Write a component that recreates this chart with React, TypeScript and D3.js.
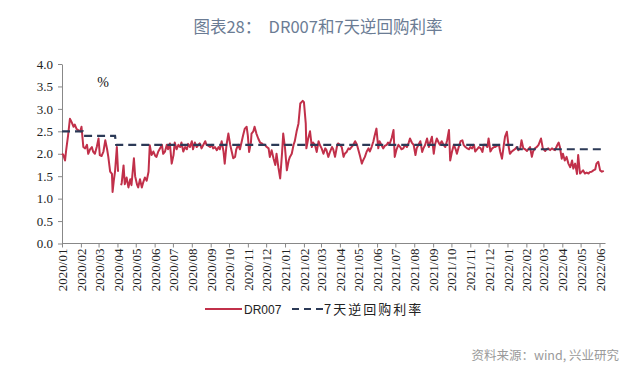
import React, { useEffect, useRef } from "react";
import * as d3 from "d3";

// ---- data ----
const TITLE = "图表28：  DR007和7天逆回购利率";
const SOURCE = "资料来源：wind, 兴业研究";
const UNIT = "%";
const SERIES_NAMES = ["DR007", "7天逆回购利率"];
const BASE_DATE = "2020-01-01";
const X_START = "2020-01-01";
const X_END = "2022-06-01";
const Y_TICKS = [0, 0.5, 1, 1.5, 2, 2.5, 3, 3.5, 4];

// DR007: day offset from BASE_DATE, value (null = missing)
const DR007_DAY = [
  0, 2, 5, 7, 10, 13, 16, 19, 21, 24, 27, 30, 32, 35, 38, 41, 43, 46, 49, 51, 54, 57, 60, 62, 65, 68, 71, 74, 76, 79, 82, 83, 85, 87, 90, 92, 94,
  97, 98, 101, 103, 106, 109, 112, 114, 118, 120, 123, 125, 128, 131, 133, 136, 139, 142, 144, 147, 150, 153, 155, 158, 161, 164, 166, 169, 172, 174, 177, 180, 183, 185, 188, 191, 194, 196, 199, 202, 205, 207, 210, 213, 215, 218, 221, 224,
  226, 229, 232, 235, 237, 240, 243, 246, 248, 251, 254, 257, 259, 262, 265, 267, 270, 273, 276, 278, 281, 284, 286, 289, 292, 295, 297, 300, 303, 305, 307, 310, 311, 314, 316, 319, 322, 325, 328, 330, 333, 336, 339, 341, 344, 347, 350, 352, 355, 358, 361, 363, 366, 369, 372, 374, 377, 380, 382, 385, 388, 391, 393, 395, 397, 400, 401, 404, 407, 410, 412, 415, 418, 421, 423, 426, 429, 432, 434, 437, 440, 443, 445, 448, 451, 453, 456, 459, 462, 464, 467, 470, 472, 475, 478, 481, 484, 486, 489, 492, 494, 497, 500, 503, 505, 508, 511, 513, 516, 519, 521, 524, 527, 530, 533, 535, 538, 541, 544, 546, 549, 552, 555, 557, 560, 563, 566, 569, 571, 574, 577, 580, 582, 585, 588, 591, 593, 596, 599, 602, 604, 607, 610, 612, 615, 618, 620, 623, 626, 629, 632, 635, 637, 640, 643, 646, 648, 651, 654, 657, 659, 662, 665, 668, 670, 673, 676, 678, 681, 684, 687, 690, 692, 695, 698, 700, 703, 706, 709, 711, 714, 717, 719, 722, 725, 727, 730, 733, 735, 738, 741, 743, 746, 749, 752, 754, 757, 760, 763, 765, 768, 771, 773, 776, 779, 782, 786, 789, 793, 795, 798, 801, 804, 806, 809, 813, 815, 817, 820, 822, 825, 828, 831, 834, 837, 839, 842, 845, 847, 850, 853, 855, 858, 861, 864, 866, 869, 872, 875, 877, 880, 883, 886, 889,
];
const DR007_VAL = [
  2.0, 1.98, 1.85, 2.1, 2.41, 2.78, 2.7, 2.6, 2.65, 2.55, 2.52, 2.5, 2.6, 2.15, 2.12, 2.2, 2.0, 2.1, 2.15, 2.05, 2.0, 2.15, 2.34, 1.97, 1.95, 2.05, 2.3, 2.1, 1.93, 1.6, 1.55, 1.15, 1.4, 1.6, 2.15, 1.6, null,
  1.3, 1.35, 1.74, 1.32, 1.47, 1.25, 1.43, 1.3, 1.9, 1.5, 1.32, 1.25, 1.43, 1.25, 1.35, 1.47, 1.4, 1.6, 2.19, 1.97, 2.05, 1.95, 1.93, 2.05, 2.12, 2.2, 2.0, 2.05, 2.2, 2.1, 2.23, 1.78, 1.97, 2.25, 2.1, 2.2, 2.15, 2.25, 2.05, 2.15, 2.1, 2.22, 2.15, 2.28, 2.1, 2.25, 2.15, 2.2,
  2.23, 2.12, 2.2, 2.28, 2.2, 2.18, 2.15, 2.2, 2.12, 2.15, 2.08, 2.15, 2.1, 2.28, 2.05, 1.78, 2.2, 2.45, 2.2, 2.08, 1.9, 1.93, 2.1, 2.2, 2.1, 2.28, 2.4, 2.56, 2.6, 2.4, 2.04, 2.25, 2.45, 2.5, 2.6, 2.45, 2.34, 2.25, 2.23, 2.2, 2.2, 2.15, 2.12, 1.93, 2.08, 1.9, 1.75, 2.0, 1.7, 1.45, 2.0, 2.45, 2.12, 1.63, 1.85, 1.93, 2.0, 2.2, 2.28, 2.5, 2.67, 3.12, 3.15, 3.18, 3.15, 2.67, 2.12, 2.34, 2.5, 2.15, 2.25, 2.2, 2.04, 2.28, 2.2, 2.12, 2.0, 2.12, 2.08, 1.93, 2.05, 2.15, 2.1, 1.93, 2.15, 2.23, 2.2, 2.15, 1.93, 2.0, 2.04, 2.12, 2.1, 2.15, 2.2, 2.28, 2.2, 2.1, 1.95, 1.78, 1.85, 1.93, 2.05, 2.12, 2.05, 2.15, 2.28, 2.4, 2.56, 2.12, 2.28, 2.2, 2.12, 2.18, 2.2, 2.25, 2.23, 2.35, 2.53, 1.93, 2.1, 2.2, 2.15, 2.1, 2.12, 2.2, 2.15, 2.25, 2.34, 2.25, 2.2, 1.97, 2.12, 2.2, 2.28, 2.04, 2.12, 2.2, 2.34, 2.15, 2.25, 2.38, 2.0, 2.2, 2.34, 2.25, 2.2, 2.28, 2.2, 2.15, 2.3, 2.53, 1.85, 2.05, 2.2, 2.1, 2.0, 2.15, 2.28, 2.3, 2.2, 2.15, 2.12, 2.1, 2.15, 2.12, 2.2, 2.05, 2.1, 2.15, 2.12, 2.04, 2.2, 2.2, 2.15, 2.34, 2.05, 2.12, 2.15, 2.15, 2.18, 2.2, 2.05, 1.89, 2.2, 2.38, 2.49, 2.15, 2.0, 2.05, 2.08, 2.1, 2.15, 2.08, 2.12, 2.3, 2.12, 2.1, 2.06, 2.1, 2.15, 1.93, 2.05, 2.12, 2.15, 2.2, 2.34, 2.12, 2.06, 2.1, 2.12, 2.08, 2.12, 2.1, 2.08, 2.2, 2.25, 2.15, 1.89, 2.0, 1.85, 1.93, 1.78, 1.7, 1.85, 1.67, 1.78, 1.55, 1.97, 1.56, 1.6, 1.63, 1.56, 1.58, 1.56, 1.59, 1.6, 1.63, 1.65, 1.78, 1.82, 1.63, 1.6, 1.62,
];

// 7-day reverse repo rate: day offset, value
const REPO_DAY = [0, 34, 35, 87, 89, 746, 748, 889];
const REPO_VAL = [2.5, 2.5, 2.4, 2.4, 2.2, 2.2, 2.1, 2.1];

const RED = "#c1304a";
const NAVY = "#2c3a57";

export default function App() {
  const ref = useRef<SVGSVGElement>(null);

  useEffect(() => {
    const svg = d3.select(ref.current);
    svg.selectAll("*").remove();
    const W = 640, H = 368;
    const left = 62, right = 599.5, top = 64, bottom = 243.5;

    const base = d3.timeParse("%Y-%m-%d")(BASE_DATE)!;
    const x = d3
      .scaleTime()
      .domain([d3.timeParse("%Y-%m-%d")(X_START)!, d3.timeParse("%Y-%m-%d")(X_END)!])
      .range([left, right]);
    const y = d3.scaleLinear().domain([0, 4]).range([bottom, top]);

    svg.append("rect").attr("width", W).attr("height", H).attr("fill", "#fff");

    // title
    svg.append("text")
      .attr("x", 318).attr("y", 33)
      .attr("text-anchor", "middle")
      .attr("font-family", "'Noto Sans CJK SC', 'Noto Sans', sans-serif")
      .attr("font-size", 16.5)
      .attr("fill", "#6b7c94")
      .attr("xml:space", "preserve")
      .text(TITLE);

    // y axis
    const yAxis = d3.axisLeft(y).tickValues(Y_TICKS).tickFormat(d3.format(".1f")).tickSize(4).tickSizeOuter(0);
    const gy = svg.append("g").attr("transform", `translate(${left},0)`).call(yAxis);
    gy.select(".domain").attr("stroke", "#888");
    gy.selectAll(".tick line").attr("stroke", "#888");
    gy.selectAll(".tick text")
      .attr("font-family", "'Liberation Serif', 'Times New Roman', serif")
      .attr("font-size", 13)
      .attr("fill", "#222")
      .attr("x", -9);

    // x axis
    const xTicks = d3.timeMonth.range(x.domain()[0], d3.timeDay.offset(x.domain()[1], 1));
    const xAxis = d3.axisBottom(x).tickValues(xTicks).tickFormat(d3.timeFormat("%Y/%m") as any).tickSize(4).tickSizeOuter(0);
    const gx = svg.append("g").attr("transform", `translate(0,${bottom})`).call(xAxis);
    gx.select(".domain").attr("stroke", "#888").attr("d", `M${left},0H${right + 6}`);
    gx.selectAll(".tick line").attr("stroke", "#888");
    gx.selectAll(".tick text")
      .attr("font-family", "'Liberation Serif', 'Times New Roman', serif")
      .attr("font-size", 13)
      .attr("fill", "#222")
      .attr("text-anchor", "end")
      .attr("transform", "rotate(-90)")
      .attr("x", -5)
      .attr("y", 0)
      .attr("dy", "0.35em");

    // unit
    svg.append("text")
      .attr("x", 103).attr("y", 87)
      .attr("text-anchor", "middle")
      .attr("font-family", "'Liberation Serif', serif")
      .attr("font-size", 14)
      .attr("fill", "#111")
      .text(UNIT);

    // repo line
    const repo = REPO_DAY.map((d, i) => ({ date: d3.timeDay.offset(base, d), v: REPO_VAL[i] }));
    const line = d3.line<{ date: Date; v: number | null }>()
      .defined((d) => d.v != null)
      .x((d) => x(d.date))
      .y((d) => y(d.v as number));

    // DR007
    const dr = DR007_DAY.map((d, i) => ({ date: d3.timeDay.offset(base, d), v: DR007_VAL[i] }));
    svg.append("path")
      .datum(dr)
      .attr("d", line as any)
      .attr("fill", "none")
      .attr("stroke", RED)
      .attr("stroke-width", 2)
      .attr("stroke-linejoin", "round");

    svg.append("path")
      .datum(repo)
      .attr("d", line as any)
      .attr("fill", "none")
      .attr("stroke", NAVY)
      .attr("stroke-width", 2.2)
      .attr("stroke-dasharray", "8,5");

    // legend
    const ly = 309;
    svg.append("line").attr("x1", 205).attr("x2", 242).attr("y1", ly).attr("y2", ly)
      .attr("stroke", RED).attr("stroke-width", 2);
    svg.append("text").attr("x", 244).attr("y", ly + 4.5)
      .attr("font-family", "'Liberation Sans', Arial, sans-serif")
      .attr("font-size", 12).attr("fill", "#222").text(SERIES_NAMES[0]);
    svg.append("line").attr("x1", 292).attr("x2", 323).attr("y1", ly).attr("y2", ly)
      .attr("stroke", NAVY).attr("stroke-width", 2).attr("stroke-dasharray", "7,5");
    svg.append("text").attr("x", 324).attr("y", ly + 4.5)
      .attr("font-family", "'Noto Sans CJK SC', sans-serif")
      .attr("font-size", 13).attr("letter-spacing", 2).attr("fill", "#222").text(SERIES_NAMES[1]);

    // source
    svg.append("text")
      .attr("x", 619).attr("y", 360)
      .attr("text-anchor", "end")
      .attr("font-family", "'Noto Sans CJK SC', 'Noto Sans', sans-serif")
      .attr("font-size", 12.5)
      .attr("fill", "#9a9a9a")
      .text(SOURCE);
  }, []);

  return (
    <svg
      ref={ref}
      width={640}
      height={368}
      style={{ position: "absolute", left: 0, top: 0, display: "block" }}
    />
  );
}
